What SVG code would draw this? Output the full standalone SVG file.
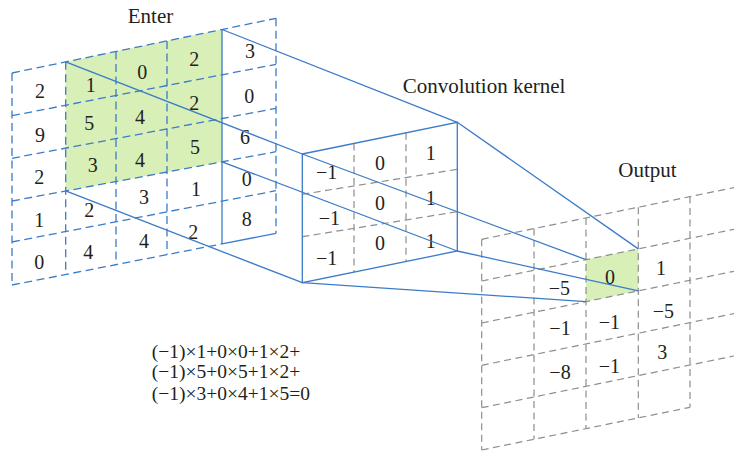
<svg xmlns="http://www.w3.org/2000/svg" width="734" height="453" viewBox="0 0 734 453">
<style>
.bd{stroke:#3b7bc8;stroke-width:1.3;stroke-dasharray:8 4.5;fill:none}
.bs{stroke:#3b7bc8;stroke-width:1.3;fill:none}
.gd{stroke:#8e8e8e;stroke-width:1.2;stroke-dasharray:7 4.5;fill:none}
.grn{fill:#d8efb8;stroke:none}
.n{font-family:"Liberation Serif","Times New Roman",serif;font-size:20px;fill:#231f20;text-anchor:middle}
.lbl{font-family:"Liberation Serif","Times New Roman",serif;font-size:21px;fill:#231f20}
.f{font-family:"Liberation Serif","Times New Roman",serif;font-size:19.5px;fill:#231f20}
</style>
<rect width="734" height="453" fill="#ffffff"/>

<g id="input">
  <polygon class="grn" points="65.7,61.87 222,29.49 222,161.79 65.7,190.97"/>
  <line class="bd" x1="12" y1="73" x2="276" y2="18.3"/>
  <line class="bd" x1="12" y1="115.7" x2="276" y2="64.3"/>
  <line class="bd" x1="12" y1="158.3" x2="276" y2="108.3"/>
  <line class="bd" x1="12" y1="201" x2="276" y2="151.7"/>
  <line class="bd" x1="12" y1="242" x2="276" y2="190.7"/>
  <line class="bd" x1="12" y1="285" x2="222" y2="243.88"/>
  <line class="bs" x1="222" y1="243.88" x2="276" y2="233.3"/>
  <line class="bd" x1="12" y1="73" x2="12" y2="285"/>
  <line class="bd" x1="65.7" y1="61.87" x2="65.7" y2="274.48"/>
  <line class="bd" x1="116" y1="51.45" x2="116" y2="264.63"/>
  <line class="bd" x1="167" y1="40.88" x2="167" y2="254.65"/>
  <line class="bs" x1="222" y1="29.49" x2="222" y2="243.88"/>
  <line class="bd" x1="276" y1="18.3" x2="276" y2="233.3"/>
  <text class="n" x="40" y="97.7">2</text>
  <text class="n" x="90.7" y="92">1</text>
  <text class="n" x="142.3" y="79.3">0</text>
  <text class="n" x="194.3" y="66">2</text>
  <text class="n" x="250" y="58">3</text>
  <text class="n" x="40" y="142">9</text>
  <text class="n" x="89.3" y="130.3">5</text>
  <text class="n" x="140" y="123.7">4</text>
  <text class="n" x="194.3" y="110.3">2</text>
  <text class="n" x="249.3" y="102.7">0</text>
  <text class="n" x="39.3" y="183.7">2</text>
  <text class="n" x="92.7" y="172">3</text>
  <text class="n" x="140" y="167">4</text>
  <text class="n" x="195" y="153.7">5</text>
  <text class="n" x="245" y="143.7">6</text>
  <text class="n" x="39.3" y="227">1</text>
  <text class="n" x="89.3" y="217">2</text>
  <text class="n" x="144" y="203.7">3</text>
  <text class="n" x="196" y="196.3">1</text>
  <text class="n" x="246.7" y="186.3">0</text>
  <text class="n" x="39.3" y="268.7">0</text>
  <text class="n" x="88.3" y="258.7">4</text>
  <text class="n" x="144" y="247.7">4</text>
  <text class="n" x="193.3" y="238.7">2</text>
  <text class="n" x="246.7" y="226.3">8</text>
</g>

<g id="kernel">
  <polygon points="302.3,154 457.3,122.3 457.3,251 302.3,282.7" fill="#ffffff" stroke="none"/>
  <line class="gd" x1="354" y1="143.43" x2="354" y2="272.13"/>
  <line class="gd" x1="406" y1="132.79" x2="406" y2="261.49"/>
  <line class="gd" x1="302.3" y1="194.3" x2="457.3" y2="169.3"/>
  <line class="gd" x1="302.3" y1="236.7" x2="457.3" y2="211.7"/>
  <polygon class="bs" points="302.3,154 457.3,122.3 457.3,251 302.3,282.7"/>
  <text class="n" x="326.7" y="178.7">−1</text>
  <text class="n" x="380" y="170.3">0</text>
  <text class="n" x="430.7" y="160.3">1</text>
  <text class="n" x="329.3" y="225.3">−1</text>
  <text class="n" x="380" y="209.7">0</text>
  <text class="n" x="430.7" y="204.7">1</text>
  <text class="n" x="326.7" y="265.3">−1</text>
  <text class="n" x="380" y="250.3">0</text>
  <text class="n" x="430.7" y="247.7">1</text>
</g>

<g id="output">
  <polygon class="grn" points="586,259.62 638.3,248.9 638.3,290.9 586,301.62"/>
  <line class="gd" x1="481.7" y1="239.3" x2="734" y2="187.58"/>
  <line class="gd" x1="481.7" y1="281" x2="734" y2="229.28"/>
  <line class="gd" x1="481.7" y1="323" x2="734" y2="271.28"/>
  <line class="gd" x1="481.7" y1="365.3" x2="734" y2="313.58"/>
  <line class="gd" x1="481.7" y1="407.7" x2="734" y2="355.98"/>
  <line class="gd" x1="481.7" y1="450" x2="690" y2="407.3"/>
  <line class="gd" x1="481.7" y1="239.3" x2="481.7" y2="450"/>
  <line class="gd" x1="534" y1="228.58" x2="534" y2="439.28"/>
  <line class="gd" x1="586" y1="217.92" x2="586" y2="428.62"/>
  <line class="gd" x1="638.3" y1="207.2" x2="638.3" y2="417.9"/>
  <line class="gd" x1="690" y1="196.6" x2="690" y2="407.3"/>
  <text class="n" x="559.3" y="295.3">−5</text>
  <text class="n" x="610" y="284.3">0</text>
  <text class="n" x="661" y="275.3">1</text>
  <text class="n" x="560" y="335.3">−1</text>
  <text class="n" x="609.3" y="328.7">−1</text>
  <text class="n" x="663.3" y="317.7">−5</text>
  <text class="n" x="560" y="378.7">−8</text>
  <text class="n" x="609.3" y="373">−1</text>
  <text class="n" x="662.3" y="358.7">3</text>
</g>

<g id="connectors" class="bs">
  <line x1="65.7" y1="61.87" x2="302.3" y2="154"/>
  <line x1="222" y1="29.49" x2="457.3" y2="122.3"/>
  <line x1="65.7" y1="190.97" x2="302.3" y2="282.7"/>
  <line x1="222" y1="161.79" x2="457.3" y2="251"/>
  <line x1="302.3" y1="154" x2="586" y2="259.62"/>
  <line x1="457.3" y1="122.3" x2="638.3" y2="248.9"/>
  <line x1="302.3" y1="282.7" x2="586" y2="301.62"/>
  <line x1="457.3" y1="251" x2="638.3" y2="290.9"/>
</g>

<g id="labels">
  <text class="lbl" x="150.5" y="23.3" text-anchor="middle">Enter</text>
  <text class="lbl" x="402.7" y="93.3">Convolution kernel</text>
  <text class="lbl" x="647.5" y="177" text-anchor="middle">Output</text>
</g>

<g id="formula">
  <text class="f" x="151.7" y="357.7">(−1)×1+0×0+1×2+</text>
  <text class="f" x="151.7" y="377.7">(−1)×5+0×5+1×2+</text>
  <text class="f" x="151.7" y="400">(−1)×3+0×4+1×5=0</text>
</g>
</svg>
